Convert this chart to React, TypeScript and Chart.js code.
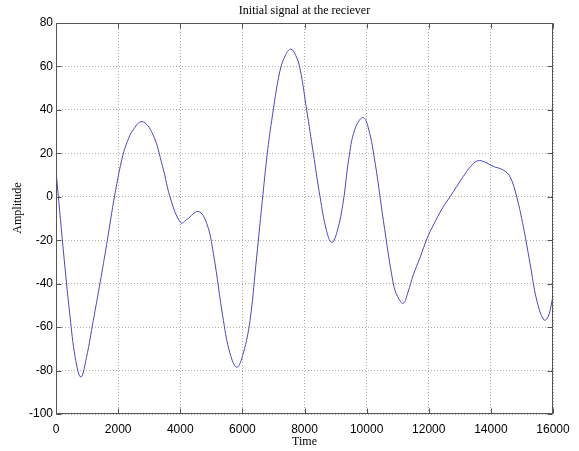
import React, { useEffect, useRef } from 'react';
import { Chart, registerables } from 'chart.js';

Chart.register(...registerables);

const titleText = 'Initial signal at the reciever';
const xLabel = 'Time';
const yLabel = 'Amplitude';

const times = [
  0, 235, 451, 620, 800, 980, 1200, 1420, 1630, 1900, 2150, 2300, 2470, 2770, 3110, 3430, 3700,
  4020, 4210, 4580, 4850, 5065, 5390, 5600, 5820, 6030, 6245, 6430, 6640, 6803, 6943, 7210,
  7400, 7565, 7720, 7855, 8070, 8284, 8500, 8700, 8875, 9050, 9250, 9420, 9620, 9880, 10050,
  10280, 10540, 10860, 11000, 11180, 11330, 11500, 11720, 11950, 12150, 12450, 12684, 13110, 13350,
  13580, 13800, 14080, 14400, 14615, 14831, 15045, 15260, 15475, 15710, 15850, 16000,
];
const amplitude = [
  12, -24.5, -55, -74, -83, -74, -57, -39.5, -22, 1.5, 19, 25.5, 30.5, 34.6, 29, 14, -1.5,
  -12, -10.5, -6.8, -12.2, -26, -57, -72, -78.5, -72, -57, -32, -2, 20, 35, 58,
  65.5, 68, 65, 59, 40, 20, 0, -15, -21, -16, -2, 17, 31, 36.5, 32,
  15, -11, -40, -46, -49, -44, -36, -28, -19, -13, -5, 0, 9.3, 14,
  16.6, 16, 14, 12.3, 9.3, 0, -13.8, -30.6, -47.5, -56.7, -55, -45.7,
];
const xTicks = [0, 2000, 4000, 6000, 8000, 10000, 12000, 14000, 16000];
const yTicks = [-100, -80, -60, -40, -20, 0, 20, 40, 60, 80];

const framePlugin = {
  id: 'matlabFrame',
  afterDraw(chart: any) {
    const { ctx, chartArea, scales } = chart;
    const { left, top, right, bottom } = chartArea;
    const xs = scales.x;
    const ys = scales.y;
    ctx.save();
    ctx.strokeStyle = '#555555';
    ctx.lineWidth = 1;
    const L = Math.round(left) + 0.5;
    const R = Math.round(right) - 0.5;
    const T = Math.round(top) + 0.5;
    const B = Math.round(bottom) - 0.5;
    ctx.strokeRect(L, T, R - L, B - T);
    ctx.beginPath();
    const tl = 5;
    xTicks.forEach((v) => {
      const px = Math.round(xs.getPixelForValue(v)) + 0.5;
      ctx.moveTo(px, B);
      ctx.lineTo(px, B - tl);
      ctx.moveTo(px, T);
      ctx.lineTo(px, T + tl);
    });
    yTicks.forEach((v) => {
      const py = Math.round(ys.getPixelForValue(v)) + 0.5;
      ctx.moveTo(L, py);
      ctx.lineTo(L + tl, py);
      ctx.moveTo(R, py);
      ctx.lineTo(R - tl, py);
    });
    ctx.stroke();

    ctx.fillStyle = '#000000';
    ctx.font = '12px "Liberation Serif", "DejaVu Serif", serif';
    ctx.textAlign = 'center';
    ctx.textBaseline = 'middle';
    const cx = (left + right) / 2;
    ctx.fillText(titleText, cx, 11);
    ctx.fillText(xLabel, cx, 442);
    ctx.translate(18, 208);
    ctx.rotate(-Math.PI / 2);
    ctx.fillText(yLabel, 0, 0);
    ctx.restore();
  },
};

export default function App() {
  const ref = useRef<HTMLCanvasElement | null>(null);

  useEffect(() => {
    if (!ref.current) return;
    const data = times.map((t, i) => ({ x: t, y: amplitude[i] }));
    const tickFont = { family: '"Liberation Sans", Arial, sans-serif', size: 12 };
    const chart = new Chart(ref.current, {
      type: 'line',
      data: {
        datasets: [
          {
            data,
            borderColor: '#4747c8',
            borderWidth: 1,
            pointRadius: 0,
            tension: 0.4,
            fill: false,
          },
        ],
      },
      options: {
        animation: false,
        responsive: false,
        maintainAspectRatio: false,
        layout: { padding: { top: 23, right: 26, left: 0, bottom: 0 } },
        plugins: { legend: { display: false }, tooltip: { enabled: false }, title: { display: false } },
        scales: {
          x: {
            type: 'linear',
            min: 0,
            max: 16000,
            afterFit: (s: any) => { s.height = 37; },
            afterBuildTicks: (s: any) => { s.ticks = xTicks.map((v) => ({ value: v })); },
            ticks: { color: '#000', font: tickFont, padding: 8, maxRotation: 0, callback: (v: any) => String(v) },
            grid: { color: '#b0b0b0', lineWidth: 1, drawTicks: false },
            border: { display: false, dash: [1, 2] },
          },
          y: {
            type: 'linear',
            min: -100,
            max: 80,
            afterFit: (s: any) => { s.width = 56; },
            afterBuildTicks: (s: any) => { s.ticks = yTicks.map((v) => ({ value: v })); },
            ticks: { color: '#000', font: tickFont, padding: 3, callback: (v: any) => String(v) },
            grid: { color: '#b0b0b0', lineWidth: 1, drawTicks: false },
            border: { display: false, dash: [1, 2] },
          },
        },
      },
      plugins: [framePlugin],
    } as any);
    return () => chart.destroy();
  }, []);

  return (
    <div style={{ position: 'fixed', left: 0, top: 0, width: 579, height: 451, background: '#fff' }}>
      <canvas ref={ref} width={579} height={451} style={{ width: 579, height: 451, display: 'block' }} />
    </div>
  );
}
